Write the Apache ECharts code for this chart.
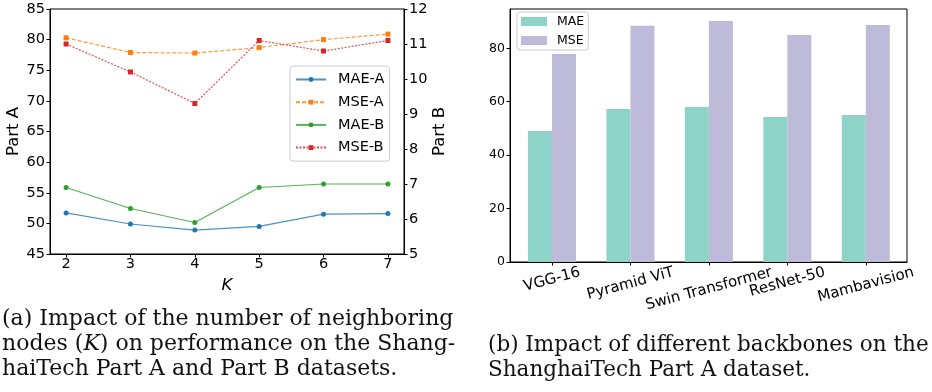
<!DOCTYPE html>
<html>
<head>
<meta charset="utf-8">
<script src="https://cdn.jsdelivr.net/npm/echarts@6/dist/echarts.min.js"></script>
<style>
  html, body { margin: 0; padding: 0; background: #fff; }
  #main { width: 932px; height: 392px; }
</style>
</head>
<body>
<div id="main"></div>
<script>
// (a) K 的取值和四条曲线
var kValues = [2, 3, 4, 5, 6, 7];
var maeA = [51.7, 49.9, 48.9, 49.5, 51.5, 51.6];
var mseA = [80.3, 77.9, 77.8, 78.7, 80.0, 80.9];
var maeB = [6.9, 6.3, 5.9, 6.9, 7.0, 7.0];
var mseB = [11.0, 10.2, 9.3, 11.1, 10.8, 11.1];
var kTicks = [2, 3, 4, 5, 6, 7];

// (b) 不同 backbone
var backbones = ['VGG-16', 'Pyramid ViT', 'Swin Transformer', 'ResNet-50', 'Mambavision'];
var barMae = [49.0, 57.3, 58.0, 54.3, 55.0];
var barMse = [77.9, 88.4, 90.2, 85.0, 88.7];
var barTicks = [0, 20, 40, 60, 80];

var font = 'DejaVu Sans';
var serif = 'DejaVu Serif';

function pairs(ys) {
    return kValues.map(function (k, i) { return [k, ys[i]]; });
}
var barIdx = backbones.map(function (b, i) { return i; });
function barPairs(ys) {
    return barIdx.map(function (i) { return [i, ys[i]]; });
}

// 旋转 15° 的标签：像 matplotlib 那样让整个包围盒顶端贴着坐标轴
var rot = 15 * Math.PI / 180;
var measure = document.createElement('canvas').getContext('2d');
measure.font = '15px "DejaVu Sans"';
var labelRich = {};
backbones.forEach(function (name, i) {
    var w = measure.measureText(name).width - 1;
    var dy = 5 + (w * Math.sin(rot) + 10.8 * Math.cos(rot)) / 2 - 10;
    labelRich['n' + i] = {
        fontFamily: font, fontSize: 15, color: '#000',
        padding: [2 * dy * Math.cos(rot), 2 * dy * Math.sin(rot), 0, 0]
    };
});

var myChart = echarts.init(document.getElementById('main'));

var tickStyle = { show: true, inside: false, length: 3.5, lineStyle: { color: '#000', width: 1 } };
var lineAxis = { show: true, onZero: false, lineStyle: { color: '#000', width: 1 } };

var option = {
    animation: false,
    textStyle: { fontFamily: font, color: '#000' },
    grid: [
        { left: 50, top: 9, width: 354, height: 245, show: true, borderColor: '#000', borderWidth: 1 },
        { left: 510, top: 9, width: 397, height: 253, show: true, borderColor: '#000', borderWidth: 1 }
    ],
    legend: [
        {
            data: ['MAE-A', 'MSE-A', 'MAE-B', 'MSE-B'],
            orient: 'vertical',
            left: 290, top: 66,
            itemWidth: 30, itemHeight: 6, itemGap: 7.7,
            padding: [6, 5, 6, 5],
            borderColor: '#cccccc', borderWidth: 1, borderRadius: 3,
            backgroundColor: 'rgba(255,255,255,0.8)',
            textStyle: { fontFamily: font, fontSize: 14.5, lineHeight: 14, color: '#000', padding: [0, 0, 0, 7] }
        },
        {
            data: ['MAE', 'MSE'],
            orient: 'vertical',
            left: 517, top: 12,
            itemWidth: 26, itemHeight: 9, itemGap: 6,
            icon: 'rect',
            padding: [3, 4, 3, 4],
            borderColor: '#cccccc', borderWidth: 1, borderRadius: 3,
            backgroundColor: 'rgba(255,255,255,0.8)',
            textStyle: { fontFamily: font, fontSize: 12.5, color: '#000', padding: [0, 0, 0, 5] }
        }
    ],
    xAxis: [
        {
            type: 'value', gridIndex: 0, min: 1.75, max: 7.25,
            name: 'K', nameLocation: 'middle', nameGap: 20,
            nameTextStyle: { fontFamily: font, fontSize: 16.5, fontStyle: 'italic', color: '#000' },
            axisLine: lineAxis,
            axisTick: Object.assign({ customValues: kTicks }, tickStyle),
            axisLabel: { customValues: kTicks, fontSize: 14.5, color: '#000', margin: 3 },
            splitLine: { show: false }
        },
        {
            type: 'value', gridIndex: 1, min: -0.535, max: 4.525,
            axisLine: lineAxis,
            axisTick: Object.assign({ customValues: barIdx }, tickStyle),
            axisLabel: {
                customValues: barIdx,
                rotate: 15, align: 'center', verticalAlign: 'middle',
                fontSize: 15, color: '#000', margin: 10,
                formatter: function (v) { return '{n' + v + '|' + backbones[v] + '}'; },
                rich: labelRich
            },
            splitLine: { show: false }
        }
    ],
    yAxis: [
        {
            type: 'value', gridIndex: 0, position: 'left', min: 45, max: 85, interval: 5,
            name: 'Part A', nameLocation: 'middle', nameGap: 21,
            nameTextStyle: { fontFamily: font, fontSize: 16.5, color: '#000' },
            axisLine: lineAxis, axisTick: tickStyle,
            axisLabel: { fontSize: 14.5, color: '#000', margin: 5 },
            splitLine: { show: false }
        },
        {
            type: 'value', gridIndex: 0, position: 'right', min: 5, max: 12, interval: 1,
            name: 'Part B', nameLocation: 'middle', nameGap: 23,
            nameTextStyle: { fontFamily: font, fontSize: 16.5, color: '#000' },
            axisLine: lineAxis, axisTick: tickStyle,
            axisLabel: { fontSize: 14.5, color: '#000', margin: 5 },
            splitLine: { show: false }
        },
        {
            type: 'value', gridIndex: 1, position: 'left', min: 0, max: 94.7,
            axisLine: lineAxis,
            axisTick: Object.assign({ customValues: barTicks }, tickStyle),
            axisLabel: { customValues: barTicks, fontSize: 12.5, color: '#000', margin: 5 },
            splitLine: { show: false }
        }
    ],
    series: [
        {
            name: 'MAE-A', type: 'line', xAxisIndex: 0, yAxisIndex: 0, data: pairs(maeA),
            symbol: 'circle', symbolSize: 5,
            itemStyle: { color: '#1f77b4' },
            lineStyle: { color: '#1f77b4', width: 1.2, opacity: 0.8 }
        },
        {
            name: 'MSE-A', type: 'line', xAxisIndex: 0, yAxisIndex: 0, data: pairs(mseA),
            symbol: 'rect', symbolSize: 5,
            itemStyle: { color: '#ff7f0e' },
            lineStyle: { color: '#ff7f0e', width: 1.2, opacity: 0.8, type: [4, 2] }
        },
        {
            name: 'MAE-B', type: 'line', xAxisIndex: 0, yAxisIndex: 1, data: pairs(maeB),
            symbol: 'circle', symbolSize: 5,
            itemStyle: { color: '#2ca02c' },
            lineStyle: { color: '#2ca02c', width: 1.2, opacity: 0.8 }
        },
        {
            name: 'MSE-B', type: 'line', xAxisIndex: 0, yAxisIndex: 1, data: pairs(mseB),
            symbol: 'rect', symbolSize: 5,
            itemStyle: { color: '#d62728' },
            lineStyle: { color: '#d62728', width: 1.2, opacity: 0.8, type: [2, 1.5] }
        },
        {
            name: 'MAE', type: 'bar', xAxisIndex: 1, yAxisIndex: 2, data: barPairs(barMae),
            barWidth: 24, barGap: '0%',
            itemStyle: { color: '#8dd3c7' }
        },
        {
            name: 'MSE', type: 'bar', xAxisIndex: 1, yAxisIndex: 2, data: barPairs(barMse),
            barWidth: 24, barGap: '0%',
            itemStyle: { color: '#bebada' }
        }
    ],
    graphic: [
        { type: 'text', left: 2, top: 308.5, style: { text: '(a) Impact of the number of neighboring', fontFamily: serif, fontSize: 22, fill: '#111' } },
        { type: 'text', left: 2, top: 333.5, style: {
            text: 'nodes ({i|K}) on performance on the Shang-', fontFamily: serif, fontSize: 22, fill: '#111',
            rich: { i: { fontFamily: serif, fontSize: 22, fontStyle: 'italic', fill: '#111' } } } },
        { type: 'text', left: 2, top: 358.5, style: { text: 'haiTech Part A and Part B datasets.', fontFamily: serif, fontSize: 22, fill: '#111' } },
        { type: 'text', left: 488, top: 334, style: { text: '(b) Impact of different backbones on the', fontFamily: serif, fontSize: 21.5, fill: '#111' } },
        { type: 'text', left: 488, top: 359, style: { text: 'ShanghaiTech Part A dataset.', fontFamily: serif, fontSize: 21.5, fill: '#111' } }
    ]
};

myChart.setOption(option);
window.onresize = function () {
    myChart.resize();
};
</script>
</body>
</html>
